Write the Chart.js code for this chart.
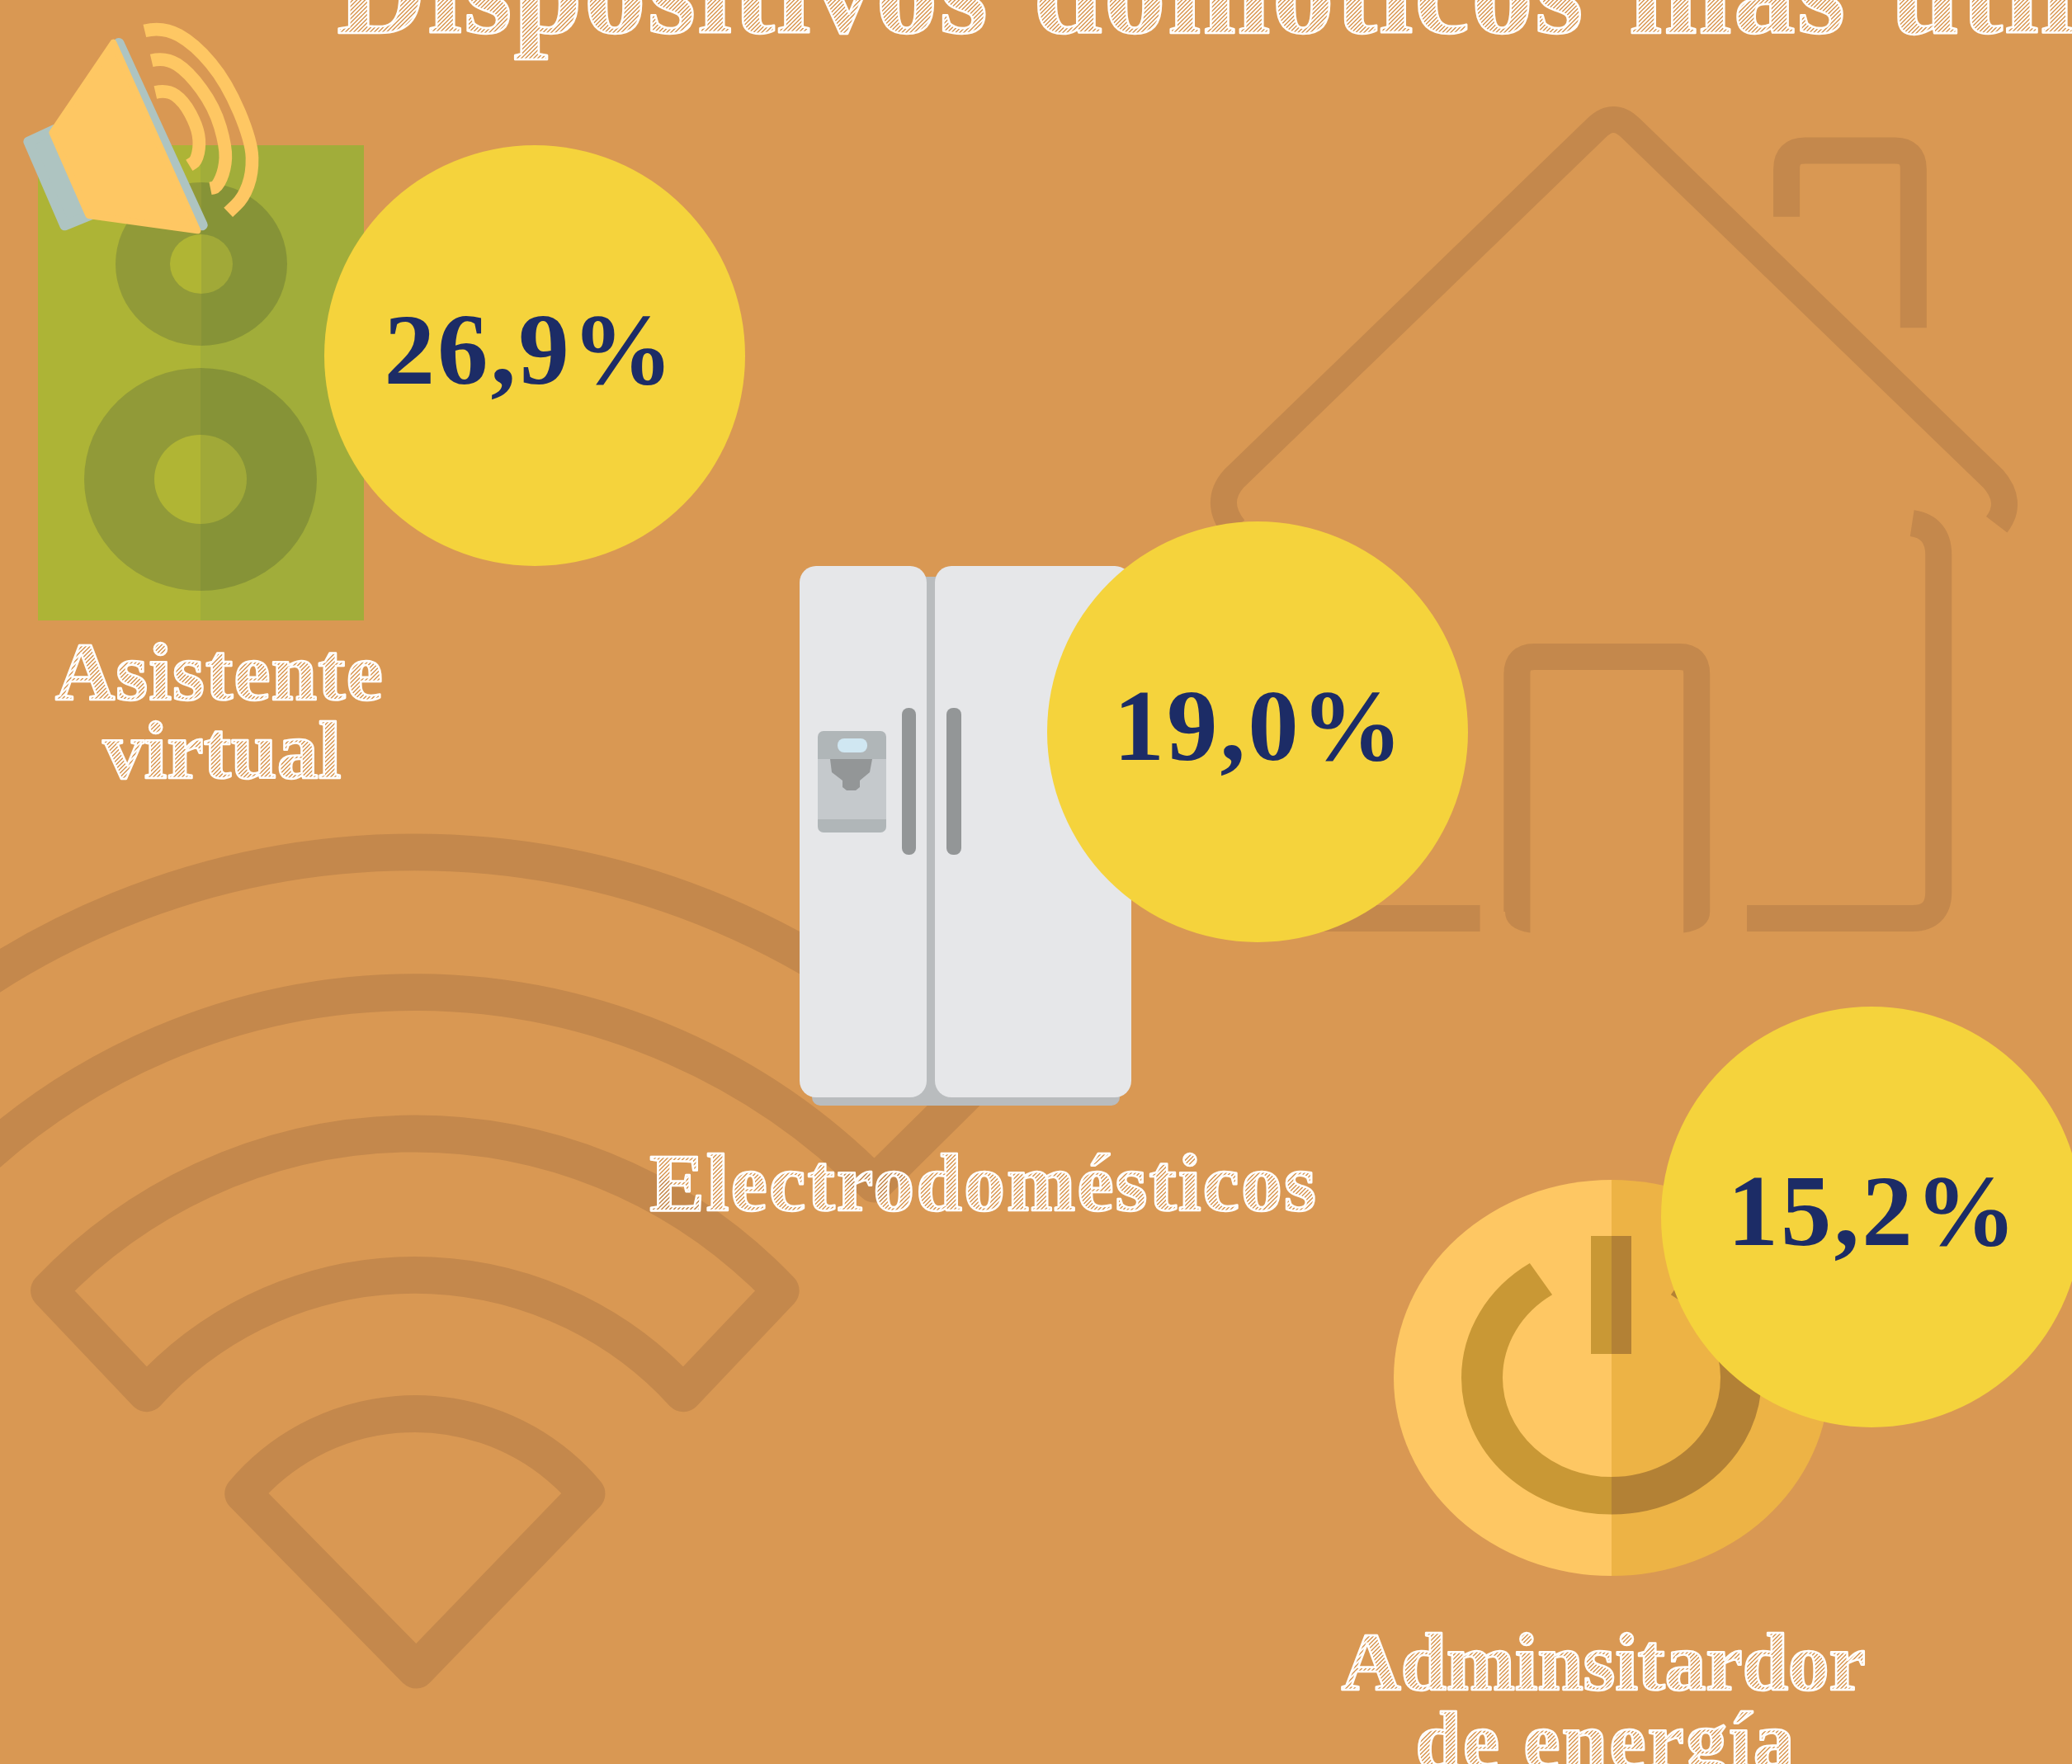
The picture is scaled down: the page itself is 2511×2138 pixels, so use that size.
<!doctype html>
<html lang="es">
<head>
<meta charset="UTF-8" />
<title>Dispositivos domóticos más utilizados</title>
<style>
  html, body { margin: 0; padding: 0; background: #d99853; overflow: hidden; }
  canvas { display: block; }
</style>
<script src="https://cdn.jsdelivr.net/npm/chart.js@4/dist/chart.umd.min.js"></script>
</head>
<body>
<canvas id="chart" width="2511" height="2138" style="width:2511px;height:2138px"></canvas>
<script>
const chartTitle = "Dispositivos domóticos más utilizados";
const categories = ["Asistente virtual", "Electrodomésticos", "Adminsitardor de energía"];
const shares = [26.9, 19.0, 15.2];

// where each bubble and caption sits on the page, in page pixels
const slotX = [648, 1524, 2268];
const slotY = [431, 887, 1475];
const bubbleRadius = 255;
const valueNudge = [-6, 2, 2];
const captionLayout = [
  { lines: ["Asistente", "virtual"], x: [266, 269], y: [848, 943], spacing: [1, 0] },
  { lines: ["Electrodomésticos"], x: [1192], y: [1467], spacing: [2] },
  { lines: ["Adminsitardor", "de energía"], x: [1943, 1946], y: [2048, 2143], spacing: [-0.3, 2] },
];

const BG = "#d99853";
const WATERMARK = "#c4884c";
const NAVY = "#1c2c66";
const YELLOW = "#f5d33c";
const SERIF = '"Liberation Serif", serif';

function formatShare(value) {
  return value.toFixed(1).replace(".", ",") + "%";
}

function hatchPattern(ctx) {
  const tile = document.createElement("canvas");
  tile.width = 5;
  tile.height = 5;
  const t = tile.getContext("2d");
  t.strokeStyle = "#ffffff";
  t.lineWidth = 2;
  t.beginPath();
  t.moveTo(-1, 6);
  t.lineTo(6, -1);
  t.moveTo(-1, 1);
  t.lineTo(1, -1);
  t.moveTo(4, 6);
  t.lineTo(6, 4);
  t.stroke();
  return ctx.createPattern(tile, "repeat");
}

function chalkText(ctx, text, x, y, size, align, spacing, wordGap) {
  ctx.save();
  ctx.font = "bold " + size + "px " + SERIF;
  ctx.textAlign = align;
  ctx.textBaseline = "alphabetic";
  ctx.letterSpacing = (spacing || 0) + "px";
  ctx.wordSpacing = (wordGap || 0) + "px";
  ctx.lineJoin = "round";
  ctx.fillStyle = hatchPattern(ctx);
  ctx.fillText(text, x, y);
  ctx.strokeStyle = "#ffffff";
  ctx.lineWidth = 2.6;
  ctx.strokeText(text, x, y);
  ctx.restore();
}

function polyPath(ctx, pts) {
  ctx.beginPath();
  pts.forEach((p, i) => (i === 0 ? ctx.moveTo(p[0], p[1]) : ctx.lineTo(p[0], p[1])));
}

function smoothPath(ctx, pts) {
  ctx.beginPath();
  ctx.moveTo(pts[0][0], pts[0][1]);
  for (let i = 1; i < pts.length - 1; i++) {
    const mx = (pts[i][0] + pts[i + 1][0]) / 2;
    const my = (pts[i][1] + pts[i + 1][1]) / 2;
    ctx.quadraticCurveTo(pts[i][0], pts[i][1], mx, my);
  }
  const last = pts[pts.length - 1];
  ctx.lineTo(last[0], last[1]);
}

function roundBox(ctx, x0, y0, x1, y1, r, color) {
  ctx.fillStyle = color;
  ctx.beginPath();
  ctx.roundRect(x0, y0, x1 - x0, y1 - y0, r);
  ctx.fill();
}

// fills an ellipse in two colours, split on its vertical centre line
function splitEllipse(ctx, cx, cy, rx, ry, left, right) {
  ctx.fillStyle = left;
  ctx.beginPath();
  ctx.ellipse(cx, cy, rx, ry, 0, Math.PI / 2, Math.PI * 1.5);
  ctx.fill();
  ctx.fillStyle = right;
  ctx.beginPath();
  ctx.ellipse(cx, cy, rx, ry, 0, -Math.PI / 2, Math.PI / 2);
  ctx.fill();
}

// house and wifi outlines behind everything, drawn in the 1568 wide units
function drawWatermarks(ctx) {
  const k = 2511 / 1568;
  ctx.save();
  ctx.scale(k, k);
  ctx.strokeStyle = WATERMARK;
  ctx.fillStyle = WATERMARK;
  ctx.lineWidth = 20;
  ctx.lineJoin = "round";
  ctx.lineCap = "butt";

  // house roof
  ctx.beginPath();
  ctx.moveTo(1511, 397);
  ctx.quadraticCurveTo(1524, 380, 1508, 362);
  ctx.lineTo(1234, 97);
  ctx.quadraticCurveTo(1221, 84, 1208, 97);
  ctx.lineTo(934, 362);
  ctx.quadraticCurveTo(918, 380, 934, 400);
  ctx.stroke();

  // chimney
  ctx.beginPath();
  ctx.moveTo(1352, 164);
  ctx.lineTo(1352, 128);
  ctx.quadraticCurveTo(1352, 114, 1366, 114);
  ctx.lineTo(1434, 114);
  ctx.quadraticCurveTo(1448, 114, 1448, 128);
  ctx.lineTo(1448, 248);
  ctx.stroke();

  // right wall and floor
  ctx.beginPath();
  ctx.moveTo(1447, 396);
  ctx.quadraticCurveTo(1467, 399, 1467, 420);
  ctx.lineTo(1467, 675);
  ctx.quadraticCurveTo(1467, 695, 1447, 695);
  ctx.lineTo(1322, 695);
  ctx.stroke();

  // left floor
  ctx.beginPath();
  ctx.moveTo(1120, 695);
  ctx.lineTo(1000, 695);
  ctx.stroke();

  // door
  ctx.beginPath();
  ctx.moveTo(1148, 690);
  ctx.lineTo(1148, 510);
  ctx.quadraticCurveTo(1148, 497, 1161, 497);
  ctx.lineTo(1271, 497);
  ctx.quadraticCurveTo(1284, 497, 1284, 510);
  ctx.lineTo(1284, 690);
  ctx.stroke();
  [[1139, 1158], [1294, 1274]].forEach(([outer, inner]) => {
    ctx.beginPath();
    ctx.moveTo(outer, 690);
    ctx.quadraticCurveTo(outer, 703, inner, 706);
    ctx.lineTo(inner, 690);
    ctx.closePath();
    ctx.fill();
  });

  // wifi: all arcs share one centre
  ctx.lineWidth = 28;
  const cx = 314;
  const cy = 1240;
  const at = (r, a) => [cx + r * Math.cos(a), cy + r * Math.sin(a)];
  const from = (side) => Math.PI + side;
  const to = (side) => Math.PI * 2 - side;

  ctx.beginPath();
  ctx.moveTo(315, 1264);
  ctx.lineTo(...at(170, from(0.7)));
  ctx.arc(cx, cy, 170, from(0.7), to(0.7));
  ctx.closePath();
  ctx.stroke();

  ctx.beginPath();
  ctx.arc(cx, cy, 382, from(0.76), to(0.76));
  ctx.lineTo(...at(275, to(0.74)));
  ctx.arc(cx, cy, 275, to(0.74), from(0.74), true);
  ctx.closePath();
  ctx.stroke();

  ctx.beginPath();
  ctx.arc(cx, cy, 595, Math.PI + 0.4, to(0.78));
  ctx.lineTo(...at(489, to(0.78)));
  ctx.arc(cx, cy, 489, to(0.78), Math.PI + 0.4, true);
  ctx.stroke();
  ctx.restore();
}

function drawSpeaker(ctx) {
  ctx.fillStyle = "#adb436";
  ctx.fillRect(46, 176, 197, 576);
  ctx.fillStyle = "#a1ad3a";
  ctx.fillRect(243, 176, 198, 576);
  splitEllipse(ctx, 244, 320, 104, 99, "#919a38", "#869337");
  splitEllipse(ctx, 244, 320, 38, 36, "#b0b534", "#a1a938");
  splitEllipse(ctx, 243, 581, 141, 135, "#919a38", "#869337");
  splitEllipse(ctx, 243, 581, 56, 54, "#b0b534", "#a1a938");
}

// megaphone traced in the coordinates of a 3x crop of the corner
function drawMegaphone(ctx) {
  ctx.save();
  ctx.scale(1 / 3, 1 / 3);
  ctx.lineJoin = "round";

  ctx.fillStyle = "#aec4c1";
  ctx.strokeStyle = "#aec4c1";
  ctx.lineWidth = 36;
  polyPath(ctx, [[200, 470], [103, 515], [235, 820], [345, 775]]);
  ctx.closePath();
  ctx.fill();
  ctx.stroke();

  ctx.lineCap = "round";
  ctx.lineWidth = 40;
  polyPath(ctx, [[432, 158], [735, 818]]);
  ctx.stroke();

  ctx.fillStyle = "#fec763";
  ctx.strokeStyle = "#fec763";
  ctx.lineWidth = 24;
  polyPath(ctx, [[412, 155], [190, 482], [322, 783], [718, 838]]);
  ctx.closePath();
  ctx.fill();
  ctx.stroke();

  ctx.lineCap = "butt";
  ctx.lineWidth = 47;
  const waves = [
    [[526, 112], [592, 96], [708, 160], [825, 300], [915, 515], [918, 630], [885, 720], [830, 772]],
    [[551, 220], [602, 208], [685, 260], [780, 390], [822, 535], [818, 615], [790, 680], [765, 685]],
    [[565, 336], [608, 326], [668, 368], [716, 458], [727, 525], [714, 585], [688, 601]],
  ];
  waves.forEach((wave) => {
    smoothPath(ctx, wave);
    ctx.stroke();
  });
  ctx.restore();
}

function drawFridge(ctx) {
  roundBox(ctx, 984, 1300, 1357, 1340, 10, "#b9bcbe");
  ctx.fillStyle = "#b9bcbe";
  ctx.fillRect(1120, 699, 16, 620);
  roundBox(ctx, 969, 686, 1123, 1330, 20, "#e6e7e9");
  roundBox(ctx, 1133, 686, 1371, 1330, 20, "#e6e7e9");
  roundBox(ctx, 1093, 858, 1110, 1036, 8, "#939697");
  roundBox(ctx, 1147, 858, 1165, 1036, 8, "#939697");

  roundBox(ctx, 991, 886, 1074, 1009, 7, "#b0b6b8");
  ctx.fillStyle = "#c5c9cc";
  ctx.fillRect(991, 920, 83, 73);
  roundBox(ctx, 1015, 895, 1051, 912, 8, "#d0e7f2");
  ctx.fillStyle = "#939697";
  polyPath(ctx, [[1006, 920], [1057, 920], [1054, 936], [1042, 946], [1042, 954], [1037, 958], [1026, 958], [1021, 954], [1021, 946], [1008, 936]]);
  ctx.closePath();
  ctx.fill();
}

function drawPower(ctx) {
  const cx = 1953;
  const cy = 1670;
  splitEllipse(ctx, cx, cy, 264, 240, "#fec763", "#edb345");

  const gap = (57 * Math.PI) / 180;
  ctx.save();
  ctx.translate(cx, cy);
  ctx.scale(1, 0.91);
  ctx.lineWidth = 50;
  ctx.lineCap = "butt";
  ctx.strokeStyle = "#c99835";
  ctx.beginPath();
  ctx.arc(0, 0, 157, Math.PI / 2, Math.PI + gap);
  ctx.stroke();
  ctx.strokeStyle = "#b38135";
  ctx.beginPath();
  ctx.arc(0, 0, 157, -gap, Math.PI / 2);
  ctx.stroke();
  ctx.restore();

  ctx.fillStyle = "#c99835";
  ctx.fillRect(1928, 1498, 25, 143);
  ctx.fillStyle = "#b38135";
  ctx.fillRect(1953, 1498, 24, 143);
}

const backdropPlugin = {
  id: "backdrop",
  beforeDatasetsDraw(chart) {
    const ctx = chart.ctx;
    ctx.save();
    ctx.fillStyle = BG;
    ctx.fillRect(0, 0, chart.width, chart.height);
    drawWatermarks(ctx);
    drawSpeaker(ctx);
    drawFridge(ctx);
    drawPower(ctx);
    drawMegaphone(ctx);
    ctx.restore();
  },
  afterDatasetsDraw(chart) {
    const ctx = chart.ctx;
    const points = chart.getDatasetMeta(0).data;

    ctx.save();
    ctx.fillStyle = NAVY;
    ctx.font = "bold 123px " + SERIF;
    ctx.letterSpacing = "3px";
    ctx.textAlign = "center";
    ctx.textBaseline = "alphabetic";
    points.forEach((pt, i) => {
      ctx.fillText(formatShare(shares[i]), pt.x + valueNudge[i], pt.y + 34);
    });
    ctx.restore();

    chalkText(ctx, chartTitle, 408, 40, 150, "left", 2, 14);
    captionLayout.forEach((cap) => {
      cap.lines.forEach((line, i) => {
        chalkText(ctx, line, cap.x[i], cap.y[i], 100, "center", cap.spacing[i]);
      });
    });
  },
};

new Chart(document.getElementById("chart"), {
  type: "bubble",
  data: {
    labels: categories,
    datasets: [
      {
        label: chartTitle,
        data: shares.map((share, i) => ({ x: slotX[i], y: slotY[i], r: bubbleRadius })),
        backgroundColor: YELLOW,
        borderWidth: 0,
        clip: false,
      },
    ],
  },
  options: {
    responsive: false,
    animation: false,
    layout: { padding: 0, autoPadding: false },
    scales: {
      x: { type: "linear", min: 0, max: 2511, display: false },
      y: { type: "linear", min: 0, max: 2138, reverse: true, display: false },
    },
    plugins: {
      legend: { display: false },
      tooltip: { enabled: false },
    },
  },
  plugins: [backdropPlugin],
});
</script>
</body>
</html>
